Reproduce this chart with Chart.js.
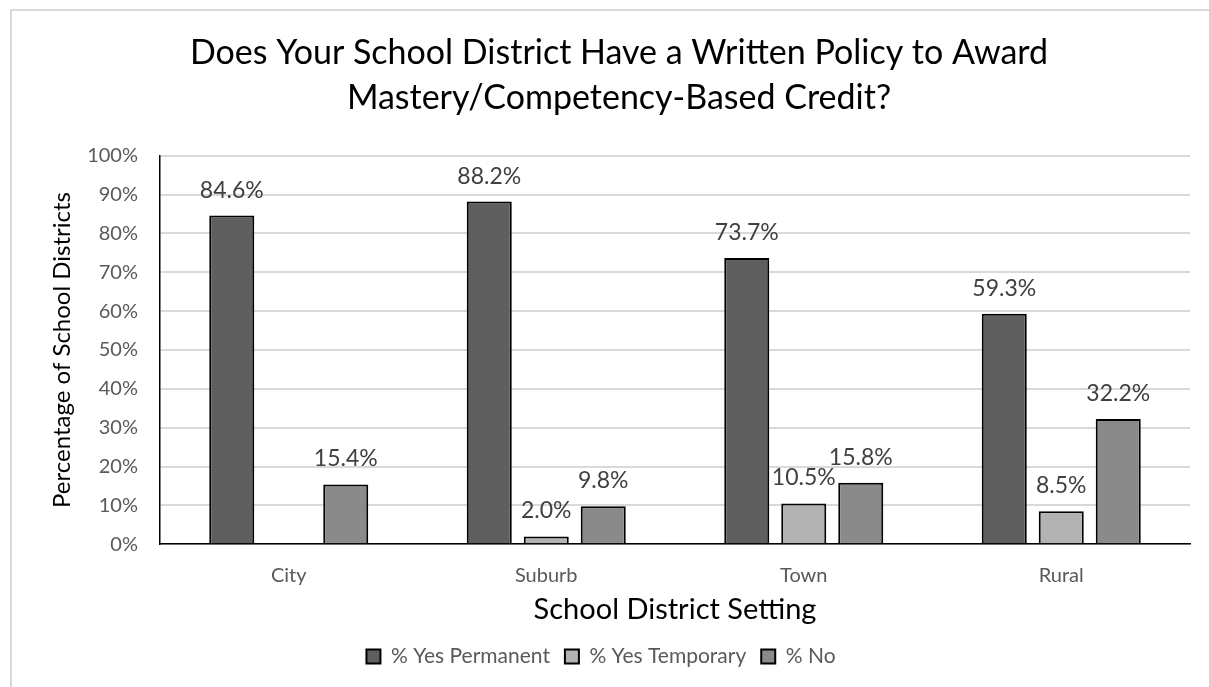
<!DOCTYPE html>
<html>
<head>
<meta charset="utf-8">
<script src="https://cdn.jsdelivr.net/npm/chart.js@4.4.1/dist/chart.umd.min.js"></script>
<style>
  html, body { margin: 0; padding: 0; background: #fff; }
  #wrap { width: 1209px; height: 687px; }
</style>
</head>
<body>
<div id="wrap"><canvas id="bar-chart"></canvas></div>
<script>
var settings = ["City", "Suburb", "Town", "Rural"];
var yesPermanent = [84.6, 88.2, 73.7, 59.3];
var yesTemporary = [null, 2.0, 10.5, 8.5];
var noPolicy = [15.4, 9.8, 15.8, 32.2];

var FONT = "Lato, 'Open Sans', sans-serif";

// light grey frame around the whole chart
var frame = {
	id: 'frame',
	beforeDraw: function(chart) {
		var c = chart.ctx;
		c.save();
		c.strokeStyle = '#d9d9d9';
		c.lineWidth = 2;
		c.strokeRect(11, 10, 1220, 700);
		c.restore();
	}
};

// nudge the legend a bit to the left
var legendShift = {
	id: 'legendShift',
	afterLayout: function(chart) {
		chart.legend.left -= 18;
		chart.legend.right -= 18;
	}
};

// value printed above every bar
var barLabels = {
	id: 'barLabels',
	afterDatasetsDraw: function(chart) {
		var c = chart.ctx;
		c.save();
		c.font = "23px " + FONT;
		c.fillStyle = '#404040';
		c.textAlign = 'center';
		c.textBaseline = 'alphabetic';
		chart.data.datasets.forEach(function(ds, i) {
			chart.getDatasetMeta(i).data.forEach(function(bar, j) {
				var v = ds.data[j];
				if (v === null) return;
				c.fillText(v.toFixed(1) + '%', bar.x, bar.y - 18);
			});
		});
		c.restore();
	}
};

var grafic = document.getElementById("bar-chart").getContext("2d");

var myBarChart = new Chart(grafic, {
	type: 'bar',
	data: {
		labels: settings,
		datasets: [
		{
			label: '% Yes Permanent',
			data: yesPermanent,
			backgroundColor: "#5f5f5f",
			borderColor: "#000",
			borderWidth: 2
		},
		{
			label: '% Yes Temporary',
			data: yesTemporary,
			backgroundColor: "#b3b3b3",
			borderColor: "#000",
			borderWidth: 2
		},
		{
			label: '% No',
			data: noPolicy,
			backgroundColor: "#8a8a8a",
			borderColor: "#000",
			borderWidth: 2
		}
		]
	},
	options: {
		responsive: true,
		maintainAspectRatio: false,
		animation: false,
		categoryPercentage: 0.664,
		barPercentage: 0.79,
		layout: {
			padding: { left: 48, right: 19, top: 31, bottom: 10 }
		},
		plugins: {
			title: {
				display: true,
				text: ["Does Your School District Have a Written Policy to Award", "Mastery/Competency-Based Credit?"],
				color: '#000',
				font: { family: FONT, size: 34, weight: 'normal', lineHeight: 1.32 },
				padding: { top: 0, bottom: 35 }
			},
			legend: {
				position: 'bottom',
				labels: {
					color: '#595959',
					font: { family: FONT, size: 21 },
					boxWidth: 14,
					boxHeight: 14,
					padding: 15
				}
			},
			tooltip: { enabled: false }
		},
		scales: {
			x: {
				grid: { display: false },
				border: { color: '#000', width: 1.5 },
				ticks: { color: '#595959', font: { family: FONT, size: 20 }, padding: 11 },
				title: {
					display: true,
					text: 'School District Setting',
					color: '#000',
					font: { family: FONT, size: 29 },
					padding: { top: -6, bottom: 4 }
				}
			},
			y: {
				min: 0,
				max: 100,
				afterFit: function(scale) { scale.width = 112; },
				ticks: {
					stepSize: 10,
					color: '#595959',
					font: { family: FONT, size: 20 },
					padding: 22,
					callback: function(v) { return v + '%'; }
				},
				grid: { color: '#d9d9d9', lineWidth: 2, drawTicks: false },
				border: { color: '#000', width: 1.5 },
				title: {
					display: true,
					text: 'Percentage of School Districts',
					color: '#000',
					font: { family: FONT, size: 24 },
					padding: { top: 0, bottom: 8 }
				}
			}
		}
	},
	plugins: [frame, legendShift, barLabels]
});
</script>
</body>
</html>
